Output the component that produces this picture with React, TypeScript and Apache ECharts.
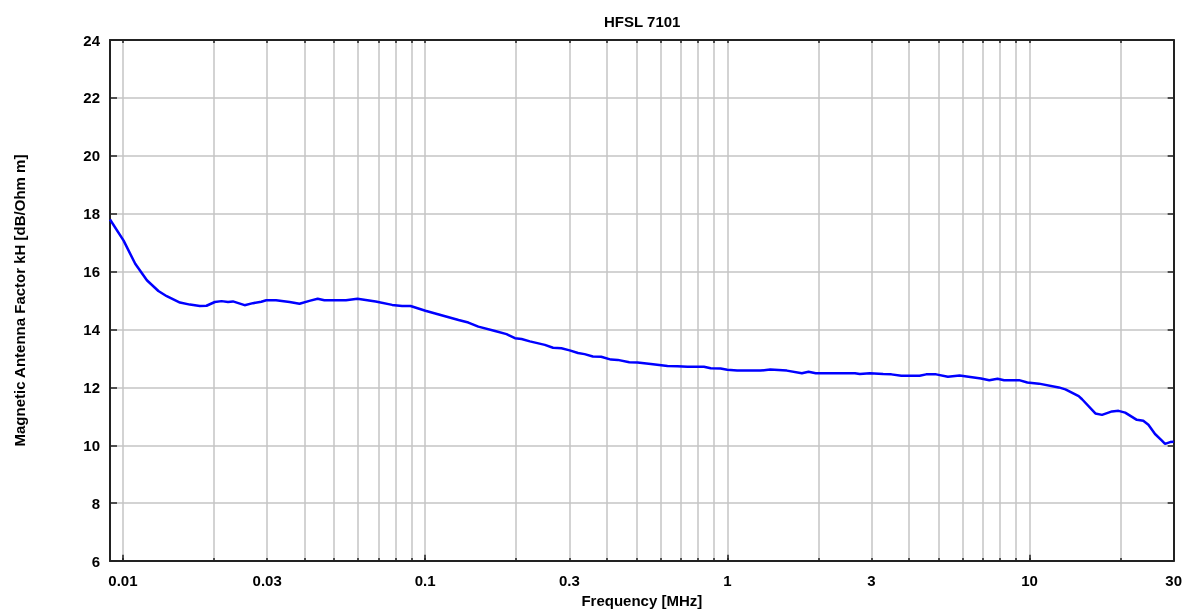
import React, { useEffect, useRef } from "react";
import * as echarts from "echarts";

const freqMHz = [
  0.00906, 0.01005, 0.01098, 0.012, 0.0131, 0.01396, 0.01544, 0.01666, 0.01797, 0.0189,
  0.02014, 0.0212, 0.02227, 0.02312, 0.02527, 0.02692, 0.0287, 0.0298, 0.0321, 0.0356,
  0.0384, 0.0414, 0.0441, 0.0464, 0.0547, 0.0597, 0.0686, 0.0778, 0.0839, 0.0895,
  0.1002, 0.111, 0.129, 0.139, 0.15, 0.1704, 0.186, 0.1983, 0.2085, 0.2222,
  0.249, 0.265, 0.2825, 0.3008, 0.3206, 0.337, 0.359, 0.3824, 0.412, 0.434,
  0.474, 0.505, 0.5585, 0.634, 0.684, 0.738, 0.837, 0.881, 0.95, 1.0,
  1.078, 1.286, 1.387, 1.574, 1.765, 1.857, 1.962, 2.3, 2.645, 2.745,
  2.961, 3.279, 3.49, 3.767, 4.33, 4.55, 4.91, 5.37, 5.87, 6.91,
  7.36, 7.84, 8.24, 9.24, 9.84, 10.75, 12.5, 13.15, 14.55, 14.93,
  16.52, 17.38, 18.75, 19.71, 20.73, 22.66, 23.8, 24.75, 26.03, 27.38,
  28.1, 29.2, 30,
];

const antennaFactor = [
  17.8, 17.07, 16.27, 15.7, 15.33, 15.15, 14.93, 14.86, 14.81, 14.82,
  14.95, 14.98, 14.95, 14.97, 14.84, 14.91, 14.96, 15.01, 15.01, 14.95,
  14.89, 14.99, 15.06, 15.01, 15.01, 15.06, 14.97, 14.85, 14.81, 14.81,
  14.65, 14.52, 14.33, 14.24, 14.1, 13.95, 13.84, 13.7, 13.67, 13.59,
  13.47, 13.37, 13.35, 13.28, 13.19, 13.15, 13.07, 13.06, 12.96, 12.95,
  12.87, 12.86, 12.81, 12.74, 12.73, 12.71, 12.71, 12.66, 12.65, 12.61,
  12.58, 12.58, 12.62, 12.58, 12.49, 12.54, 12.49, 12.49, 12.49, 12.46,
  12.49, 12.46, 12.45, 12.4, 12.4, 12.45, 12.45, 12.37, 12.41, 12.31,
  12.25, 12.3, 12.25, 12.25, 12.17, 12.13, 12.0, 11.93, 11.7, 11.59,
  11.1, 11.05, 11.17, 11.19, 11.13, 10.88, 10.85, 10.71, 10.39, 10.17,
  10.05, 10.11, 10.12,
];

const gridFreqs = [
  0.01, 0.02, 0.03, 0.04, 0.05, 0.06, 0.07, 0.08, 0.09,
  0.1, 0.2, 0.3, 0.4, 0.5, 0.6, 0.7, 0.8, 0.9,
  1, 2, 3, 4, 5, 6, 7, 8, 9,
  10, 20, 30,
];
const decadeFreqs = [0.01, 0.1, 1, 10];
const xTickLabels = [0.01, 0.03, 0.1, 0.3, 1, 3, 10, 30];

const FONT = "'Liberation Sans', Arial, Helvetica, sans-serif";

export default function App() {
  const ref = useRef<HTMLDivElement>(null);
  useEffect(() => {
    document.body.style.margin = "0";
    document.body.style.overflow = "hidden";
    if (!ref.current) return;
    const chart = echarts.init(ref.current, undefined, { renderer: "svg" });
    const labelStyle = { fontFamily: FONT, fontWeight: "bold" as const, fontSize: 15, color: "#000" };
    const axisLineStyle = { color: "#222", width: 2 };
    const splitStyle = { color: "#c4c4c4", width: 1.5 };
    chart.setOption({
      animation: false,
      textStyle: { fontFamily: FONT },
      title: {
        text: "HFSL 7101",
        left: 604,
        top: 14,
        padding: 0,
        textStyle: { ...labelStyle, fontSize: 15 },
      },
      grid: { left: 110, right: 10, top: 40, bottom: 47, containLabel: false },
      xAxis: [
        {
          type: "log",
          logBase: 10,
          min: 0.00906,
          max: 30,
          position: "bottom",
          name: "Frequency [MHz]",
          nameLocation: "middle",
          nameGap: 28,
          nameTextStyle: { ...labelStyle },
          axisLine: { show: true, lineStyle: axisLineStyle },
          axisTick: { show: true, inside: true, length: 3, customValues: gridFreqs, lineStyle: { color: "#222", width: 1.5 } },
          axisLabel: {
            show: true,
            margin: 12,
            customValues: xTickLabels,
            ...labelStyle,
            formatter: (v: number) => String(+v.toPrecision(6)),
          },
          splitLine: { show: true, lineStyle: splitStyle },
          minorTick: { show: false },
        },
        {
          type: "log",
          logBase: 10,
          min: 0.00906,
          max: 30,
          position: "top",
          axisLine: { show: true, lineStyle: axisLineStyle },
          axisTick: { show: true, inside: true, length: 3, customValues: gridFreqs, lineStyle: { color: "#222", width: 1.5 } },
          axisLabel: { show: false },
          splitLine: { show: false },
        },
      ],
      yAxis: [
        {
          type: "value",
          min: 6,
          max: 24,
          interval: 2,
          position: "left",
          name: "Magnetic Antenna Factor kH [dB/Ohm m]",
          nameLocation: "middle",
          nameGap: 83,
          nameRotate: 90,
          nameTextStyle: { ...labelStyle },
          axisLine: { show: true, lineStyle: axisLineStyle },
          axisTick: { show: true, inside: true, length: 7, lineStyle: { color: "#222", width: 1.5 } },
          axisLabel: { show: true, margin: 10, ...labelStyle },
          splitLine: { show: true, lineStyle: splitStyle },
        },
        {
          type: "value",
          min: 6,
          max: 24,
          interval: 2,
          position: "right",
          axisLine: { show: true, lineStyle: axisLineStyle },
          axisTick: { show: true, inside: true, length: 6, lineStyle: { color: "#222", width: 1.5 } },
          axisLabel: { show: false },
          splitLine: { show: false },
        },
      ],
      series: [
        {
          type: "line",
          xAxisIndex: 0,
          yAxisIndex: 0,
          data: freqMHz.map((f, i) => [f, antennaFactor[i]]),
          showSymbol: false,
          symbol: "none",
          smooth: false,
          lineStyle: { color: "#0000ff", width: 2.5 },
          itemStyle: { color: "#0000ff" },
          markLine: {
            silent: true,
            symbol: "none",
            label: { show: false },
            lineStyle: { color: "#222", width: 1.5, type: "solid" },
            data: decadeFreqs.map((f) => [
              { coord: [f, 6] },
              { coord: [f, 6.22] },
            ]),
          },
        },
      ],
    });
    return () => chart.dispose();
  }, []);
  return (
    <div
      ref={ref}
      style={{ position: "fixed", left: 0, top: 0, width: 1185, height: 613, overflow: "hidden" }}
    />
  );
}
